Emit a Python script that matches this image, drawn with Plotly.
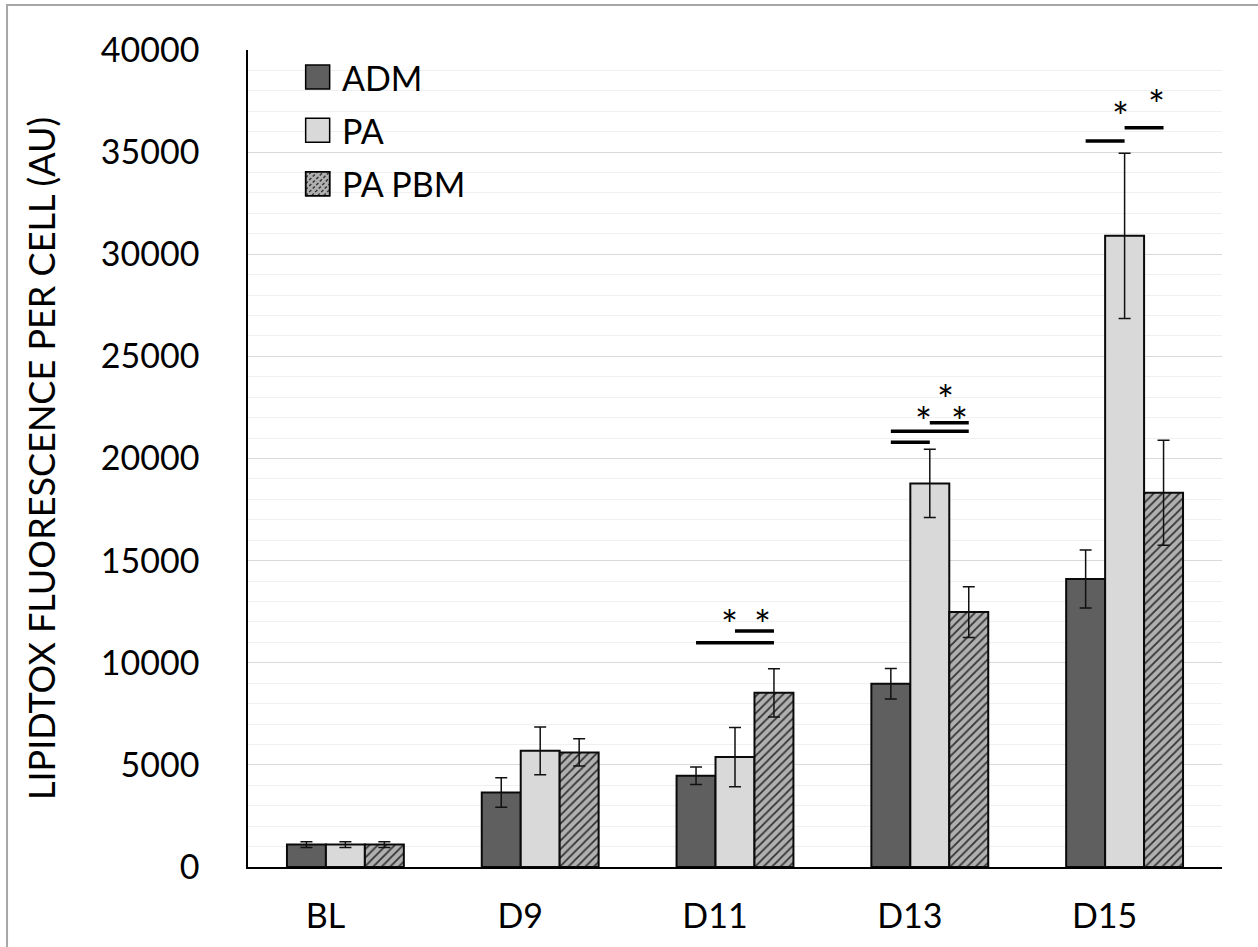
import plotly.graph_objects as go

# ---------------- data ----------------
categories = ["BL", "D9", "D11", "D13", "D15"]
series_names = ["ADM", "PA", "PA PBM"]

adm = [1100, 3650, 4470, 8970, 14100]
adm_err = [140, 720, 430, 750, 1420]
pa = [1100, 5690, 5380, 18780, 30900]
pa_err = [140, 1170, 1450, 1670, 4050]
pbm = [1100, 5610, 8530, 12480, 18320]
pbm_err = [140, 670, 1180, 1240, 2570]

# significance bars: (category, from series idx, to series idx, y value)
sig_bars = [
    ("D11", 0, 2, 10980), ("D11", 1, 2, 11550),
    ("D13", 0, 1, 20800), ("D13", 0, 2, 21330), ("D13", 1, 2, 21750),
    ("D15", 0, 1, 35540), ("D15", 1, 2, 36190),
]
# asterisks: (category, offset in category units, y value)
stars = [
    ("D11", -0.03, 12370), ("D11", 0.14, 12370),
    ("D13", 0.08, 23400), ("D13", -0.03, 22330), ("D13", 0.15, 22330),
    ("D15", -0.02, 37250), ("D15", 0.165, 37870),
]

y_title = "LIPIDTOX FLUORESCENCE PER CELL (AU)"

# ---------------- style ----------------
FONT = "Lato"
FS = 34
col_adm = "#5F5F5F"
col_pa = "#D9D9D9"
col_pbm_bg = "#B0B0B0"
col_pbm_fg = "#333333"
BAR_W = 0.2  # per-series width in category units

fig = go.Figure()
err_style = dict(type="data", thickness=1.5, width=6, color="#111111")
line_style = dict(color="#0A0A0A", width=2)

fig.add_trace(go.Bar(name=series_names[0], x=categories, y=adm,
                     error_y=dict(array=adm_err, **err_style),
                     marker=dict(color=col_adm, line=line_style)))
fig.add_trace(go.Bar(name=series_names[1], x=categories, y=pa,
                     error_y=dict(array=pa_err, **err_style),
                     marker=dict(color=col_pa, line=line_style)))
fig.add_trace(go.Bar(name=series_names[2], x=categories, y=pbm,
                     error_y=dict(array=pbm_err, **err_style),
                     marker=dict(color=col_pbm_bg, line=line_style,
                                 pattern=dict(shape="/", bgcolor=col_pbm_bg,
                                              fgcolor=col_pbm_fg, size=6,
                                              solidity=0.3))))

shapes = []
annotations = []

def series_x(cat, idx):
    return categories.index(cat) + (idx - 1) * BAR_W

for cat, a, b, yv in sig_bars:
    shapes.append(dict(type="line", xref="x", yref="y",
                       x0=series_x(cat, a), x1=series_x(cat, b), y0=yv, y1=yv,
                       line=dict(color="black", width=3.5)))

for cat, off, yv in stars:
    annotations.append(dict(xref="x", yref="y", x=categories.index(cat) + off, y=yv,
                            text="*", showarrow=False, xanchor="center", yanchor="middle",
                            yshift=-11, font=dict(family=FONT, size=40, color="black")))

# custom legend (large swatches)
leg_x = 0.0592
leg_y = 0.9816
step = 53.3
sw = 24
fills = [col_adm, col_pa, col_pbm_bg]
for k, name in enumerate(series_names):
    top = -k * step
    shapes.append(dict(type="rect", xref="paper", yref="paper",
                       xsizemode="pixel", ysizemode="pixel",
                       xanchor=leg_x, yanchor=leg_y,
                       x0=0, x1=sw, y0=top, y1=top - sw,
                       fillcolor=fills[k], line=dict(color="black", width=1.5)))
    if k == 2:
        segs = []
        for s in range(-sw, sw + 1, 6):
            xa, ya = max(0, s), max(0, -s)
            xb, yb = min(sw, s + sw), min(sw, sw - s)
            if xb - xa > 0.5:
                segs.append(f"M{xa},{top - sw + ya} L{xb},{top - sw + yb}")
        shapes.append(dict(type="path", xref="paper", yref="paper",
                           xsizemode="pixel", ysizemode="pixel",
                           xanchor=leg_x, yanchor=leg_y,
                           path=" ".join(segs),
                           line=dict(color=col_pbm_fg, width=1.4, dash="3px,2px")))
        shapes.append(dict(type="rect", xref="paper", yref="paper",
                           xsizemode="pixel", ysizemode="pixel",
                           xanchor=leg_x, yanchor=leg_y,
                           x0=0, x1=sw, y0=top, y1=top - sw,
                           line=dict(color="black", width=1.5)))
    annotations.append(dict(xref="paper", yref="paper", x=leg_x, y=leg_y,
                            xshift=34, yshift=top - sw / 2,
                            text=name, showarrow=False, xanchor="left", yanchor="middle",
                            font=dict(family=FONT, size=FS, color="black")))

# outer chart frame (left & top edges visible)
shapes.append(dict(type="path", xref="paper", yref="paper",
                   path="M-0.2474,-0.2 L-0.2474,1.0551 L1.2,1.0551",
                   line=dict(color="#A6A6A6", width=2)))

fig.update_layout(
    width=1258, height=947,
    margin=dict(l=248, r=36, t=50, b=80, autoexpand=False),
    template="none",
    paper_bgcolor="white", plot_bgcolor="white",
    barmode="group", bargap=0.4, bargroupgap=0,
    showlegend=False,
    font=dict(family=FONT, size=FS, color="black"),
    shapes=shapes, annotations=annotations,
)
fig.update_xaxes(type="category", showline=True, linecolor="black", linewidth=1.5,
                 ticks="", showgrid=False, ticklabelshift=-20, ticklabelstandoff=18,
                 tickfont=dict(family=FONT, size=FS), automargin=False, zeroline=False)
fig.update_yaxes(range=[0, 40000], dtick=5000, tickformat="d",
                 showline=True, linecolor="black", linewidth=1.5,
                 ticks="", ticklabelstandoff=40,
                 showgrid=True, gridcolor="#D9D9D9", gridwidth=1.3,
                 minor=dict(dtick=1000, showgrid=True, gridcolor="#F0F0F0", gridwidth=1.3),
                 zeroline=False, automargin=False,
                 title=dict(text=y_title, standoff=34, font=dict(family=FONT, size=36)),
                 tickfont=dict(family=FONT, size=FS))

fig.write_html("out.html")
